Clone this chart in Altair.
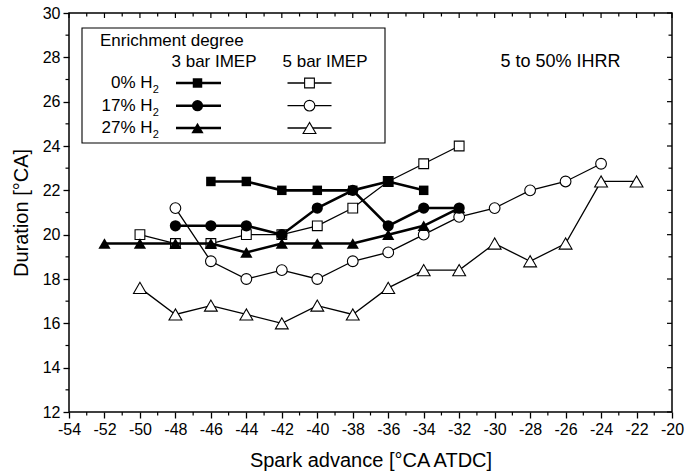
import altair as alt
import pandas as pd

FONT = "Liberation Sans"

# Spark advance [°CA ATDC] and 5-50 % IHRR duration [°CA] for each series
sa_h0_3bar = [-46, -44, -42, -40, -38, -36, -34]
dur_h0_3bar = [22.4, 22.4, 22.0, 22.0, 22.0, 22.4, 22.0]

sa_h17_3bar = [-48, -46, -44, -42, -40, -38, -36, -34, -32]
dur_h17_3bar = [20.4, 20.4, 20.4, 20.0, 21.2, 22.0, 20.4, 21.2, 21.2]

sa_h27_3bar = [-52, -50, -48, -46, -44, -42, -40, -38, -36, -34, -32]
dur_h27_3bar = [19.6, 19.6, 19.6, 19.6, 19.2, 19.6, 19.6, 19.6, 20.0, 20.4, 21.2]

sa_h0_5bar = [-50, -48, -46, -44, -42, -40, -38, -36, -34, -32]
dur_h0_5bar = [20.0, 19.6, 19.6, 20.0, 20.0, 20.4, 21.2, 22.4, 23.2, 24.0]

sa_h17_5bar = [-48, -46, -44, -42, -40, -38, -36, -34, -32, -30, -28, -26, -24]
dur_h17_5bar = [21.2, 18.8, 18.0, 18.4, 18.0, 18.8, 19.2, 20.0, 20.8, 21.2, 22.0, 22.4, 23.2]

sa_h27_5bar = [-50, -48, -46, -44, -42, -40, -38, -36, -34, -32, -30, -28, -26, -24, -22]
dur_h27_5bar = [17.6, 16.4, 16.8, 16.4, 16.0, 16.8, 16.4, 17.6, 18.4, 18.4, 19.6, 18.8, 19.6, 22.4, 22.4]

# Axis ticks
x_major = list(range(-54, -19, 2))
x_minor = list(range(-53, -20, 2))
y_major = list(range(12, 31, 2))
y_minor = list(range(13, 30, 2))

W, H = 603, 399

x_enc = alt.X(
    "x:Q",
    scale=alt.Scale(domain=[-54, -20], nice=False, zero=False),
    axis=alt.Axis(
        values=x_major, labelExpr="'' + datum.value", labelOverlap=False, labelFlush=False,
        tickSize=6, tickWidth=1.3, tickColor="black",
        labelPadding=3, labelFont=FONT, labelFontSize=16, labelColor="black",
        domain=False, grid=False, title="Spark advance [°CA ATDC]",
        titleFont=FONT, titleFontSize=20, titleFontWeight="normal",
        titleColor="black", titlePadding=13,
    ),
)
y_enc = alt.Y(
    "y:Q",
    scale=alt.Scale(domain=[12, 30], nice=False, zero=False),
    axis=alt.Axis(
        values=y_major, labelExpr="'' + datum.value", labelOverlap=False, labelFlush=False,
        tickSize=6, tickWidth=1.3, tickColor="black",
        labelPadding=3, labelFont=FONT, labelFontSize=16, labelColor="black",
        domain=False, grid=False, title="Duration [°CA]",
        titleFont=FONT, titleFontSize=20, titleFontWeight="normal",
        titleColor="black", titlePadding=11,
    ),
)

one = pd.DataFrame({"k": [0]})
layers = []

# minor ticks outside on bottom/left, all ticks inside on top/right
layers.append(alt.Chart(pd.DataFrame({"x": x_minor})).mark_rule(color="black", strokeWidth=1.2)
              .encode(x=x_enc, y=alt.value(H), y2=alt.value(H + 3.5)))
layers.append(alt.Chart(pd.DataFrame({"y": y_minor})).mark_rule(color="black", strokeWidth=1.2)
              .encode(y=y_enc, x=alt.value(-3.5), x2=alt.value(0)))
for ticks, lenv in ((x_major, 5), (x_minor, 3.5)):
    layers.append(alt.Chart(pd.DataFrame({"x": ticks})).mark_rule(color="black", strokeWidth=1.2)
                  .encode(x=x_enc, y=alt.value(0), y2=alt.value(lenv)))
for ticks, lenv in ((y_major, 5), (y_minor, 3.5)):
    layers.append(alt.Chart(pd.DataFrame({"y": ticks})).mark_rule(color="black", strokeWidth=1.2)
                  .encode(y=y_enc, x=alt.value(W - lenv), x2=alt.value(W)))

SHAPES = {"square": ("square", 90), "circle": ("circle", 125), "triangle": ("triangle-up", 150)}
OPEN_SIZE = {"square": 95, "circle": 115, "triangle": 165}


def series(xs, ys, shape, filled):
    df = pd.DataFrame({"x": xs, "y": ys})
    base = alt.Chart(df)
    line = base.mark_line(color="black", strokeWidth=2.6 if filled else 1.3).encode(x=x_enc, y=y_enc)
    sym, size = SHAPES[shape]
    if filled:
        pts = base.mark_point(shape=sym, size=size, filled=True, color="black", opacity=1)
    else:
        pts = base.mark_point(shape=sym, size=OPEN_SIZE[shape], filled=True, fill="white",
                              stroke="black", strokeWidth=1.1, opacity=1)
    return [line, pts.encode(x=x_enc, y=y_enc)]


layers += series(sa_h0_5bar, dur_h0_5bar, "square", False)
layers += series(sa_h17_5bar, dur_h17_5bar, "circle", False)
layers += series(sa_h27_5bar, dur_h27_5bar, "triangle", False)
layers += series(sa_h27_3bar, dur_h27_3bar, "triangle", True)
layers += series(sa_h0_3bar, dur_h0_3bar, "square", True)
layers += series(sa_h17_3bar, dur_h17_3bar, "circle", True)

# legend box
layers.append(alt.Chart(one).mark_rect(fill="white", stroke="black", strokeWidth=1.1)
              .encode(x=alt.value(13), x2=alt.value(316), y=alt.value(15), y2=alt.value(130)))


def text(s, x, y, size=17, align="left"):
    return alt.Chart(one).mark_text(align=align, baseline="middle", font=FONT, fontSize=size,
                                    color="black").encode(x=alt.value(x), y=alt.value(y), text=alt.value(s))


layers.append(text("Enrichment degree", 31, 27.5))
layers.append(text("3 bar IMEP", 102.5, 49))
layers.append(text("5 bar IMEP", 213.5, 49))
layers.append(text("5 to 50% IHRR", 431.5, 48.5, size=18))

rows = [("0% H", "square", 70), ("17% H", "circle", 92.7), ("27% H", "triangle", 115)]
for label, shape, yy in rows:
    layers.append(text(label, 83.5, yy, align="right"))
    layers.append(text("2", 83.8, yy + 7, size=11))
    sym, size = SHAPES[shape]
    layers.append(alt.Chart(one).mark_rule(color="black", strokeWidth=2.6)
                  .encode(x=alt.value(107), x2=alt.value(152), y=alt.value(yy)))
    layers.append(alt.Chart(one).mark_point(shape=sym, size=size, filled=True, color="black", opacity=1)
                  .encode(x=alt.value(128.5), y=alt.value(yy)))
    layers.append(alt.Chart(one).mark_rule(color="black", strokeWidth=1.3)
                  .encode(x=alt.value(218.5), x2=alt.value(262.5), y=alt.value(yy)))
    layers.append(alt.Chart(one).mark_point(shape=sym, size=OPEN_SIZE[shape], filled=True, fill="white",
                                            stroke="black", strokeWidth=1.1, opacity=1)
                  .encode(x=alt.value(240.5), y=alt.value(yy)))

chart = alt.layer(*layers).properties(
    width=W,
    height=H,
    autosize=alt.AutoSizeParams(type="none"),
    padding={"left": 69, "top": 13, "right": 15, "bottom": 62},
    background="white",
).configure_view(stroke="black", strokeWidth=1.5)

chart.save("out.html", embed_options={"renderer": "svg", "actions": False})
